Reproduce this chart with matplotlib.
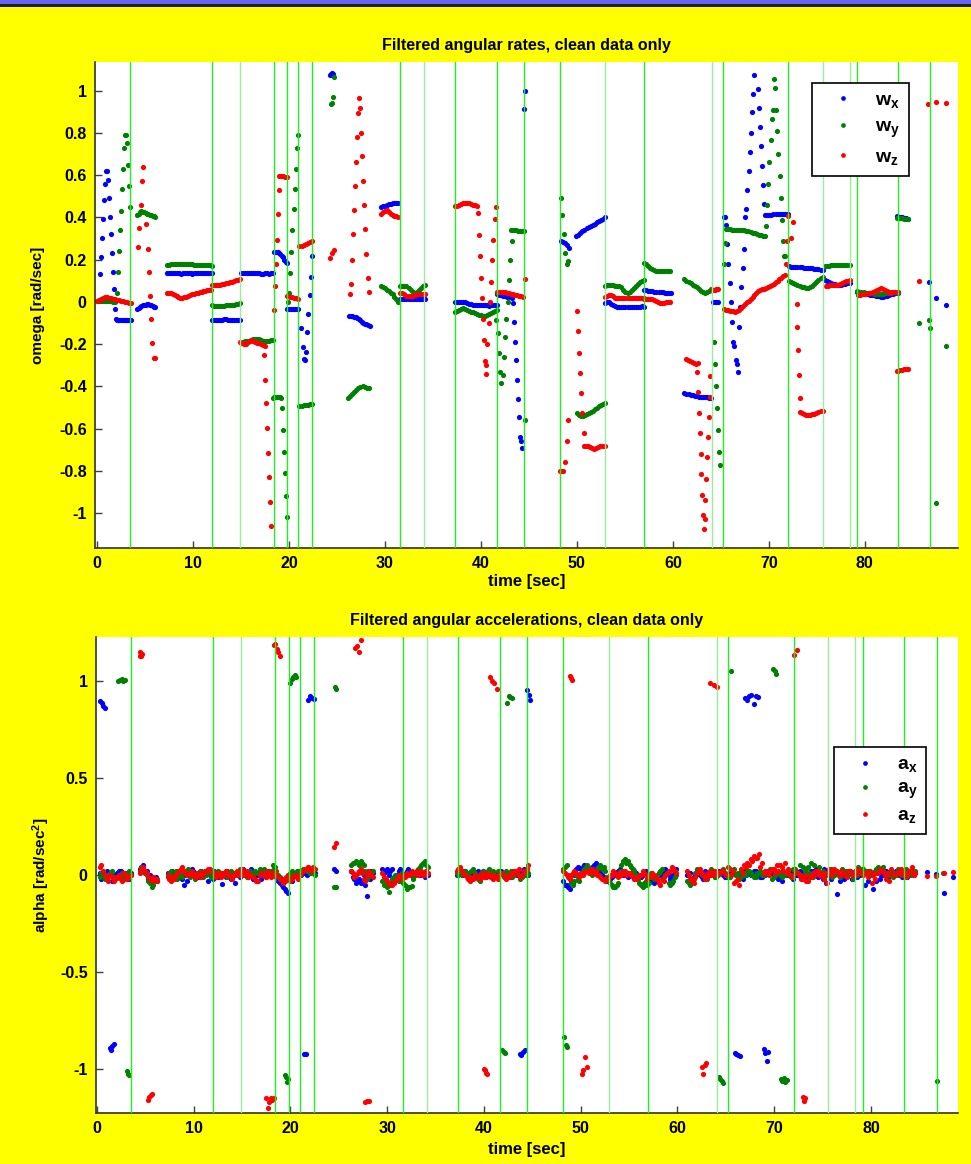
import numpy as np
import matplotlib
matplotlib.use("Agg")
import matplotlib.pyplot as plt
from matplotlib.lines import Line2D
from matplotlib.patches import Rectangle

plt.rcParams['font.family'] = ['Liberation Sans', 'DejaVu Sans']
plt.rcParams['font.weight'] = 'bold'
plt.rcParams['mathtext.fontset'] = 'custom'
plt.rcParams['mathtext.rm'] = 'Liberation Sans:bold'
plt.rcParams['mathtext.it'] = 'Liberation Sans:bold'
plt.rcParams['mathtext.bf'] = 'Liberation Sans:bold'

# event markers (green vertical lines), seconds
event_times = [3.47, 12.0, 14.9, 18.4, 19.8, 21.0, 22.4, 31.6, 34.1, 37.3, 41.7,
               44.5, 48.2, 52.9, 57.0, 64.1, 65.2, 72.0, 75.6, 78.4, 79.2, 83.4, 86.8]
pale_events = [14.9, 34.1, 52.9, 64.1, 75.6, 78.4]

# segments: (t_start, t_end, samples)
wx_segs = [
    (0.3, 1.9, [0.13, 0.21, 0.30, 0.39, 0.48, 0.56, 0.62, 0.62, 0.575, 0.49, 0.40, 0.32, 0.23, 0.14, 0.06, -0.035]),
    (2.0, 3.6, [-0.083, -0.085, -0.086, -0.085, -0.085, -0.084, -0.085, -0.086, -0.086, -0.085, -0.085, -0.086, -0.087, -0.086, -0.085]),
    (4.2, 6.1, [-0.035, -0.03, -0.025, -0.02, -0.017, -0.015, -0.013, -0.012, -0.012, -0.013, -0.015, -0.018, -0.022, -0.025]),
    (7.3, 12.0, [0.136, 0.137, 0.136, 0.135, 0.136, 0.136, 0.135, 0.134, 0.135, 0.136, 0.136, 0.135,
                 0.135, 0.134, 0.135, 0.136, 0.136, 0.135, 0.135, 0.136, 0.136, 0.135, 0.135, 0.136]),
    (12.0, 14.9, [-0.085, -0.086, -0.085, -0.085, -0.084, -0.084, -0.083, -0.083, -0.084, -0.084, -0.085, -0.085, -0.085, -0.086, -0.086]),
    (15.0, 18.3, [0.135, 0.136, 0.136, 0.137, 0.138, 0.138, 0.137, 0.136, 0.135, 0.135, 0.134, 0.134, 0.135, 0.135, 0.134, 0.135, 0.136]),
    (18.4, 19.8, [0.236, 0.237, 0.236, 0.234, 0.231, 0.226, 0.219, 0.21, 0.2, 0.19, 0.185]),
    (19.85, 21.0, [-0.034, -0.035, -0.035, -0.036, -0.035, -0.035, -0.035]),
    (21.3, 22.4, [-0.125, -0.215, -0.27, -0.275, -0.238, -0.144, -0.057, 0.033, 0.12, 0.215]),
    (24.25, 24.6, [1.075, 1.08, 1.083, 1.08]),
    (26.3, 28.4, [-0.066, -0.067, -0.068, -0.07, -0.074, -0.078, -0.083, -0.088, -0.093, -0.098, -0.103, -0.107, -0.11, -0.112]),
    (29.6, 31.4, [0.448, 0.452, 0.456, 0.46, 0.462, 0.464, 0.466, 0.467, 0.468, 0.468]),
    (31.6, 34.2, [0.015, 0.014, 0.014, 0.013, 0.014, 0.015, 0.014, 0.014, 0.013, 0.014, 0.014, 0.015, 0.014]),
    (37.3, 41.7, [0.0, 0.001, 0.0, 0.0, 0.0, -0.002, -0.005, -0.009, -0.012, -0.014, -0.015, -0.016,
                  -0.016, -0.017, -0.017, -0.017, -0.017, -0.018, -0.017, -0.017, -0.017, -0.016]),
    (41.7, 43.2, [0.035, 0.033, 0.031, 0.029, 0.027, 0.025, 0.022, 0.02]),
    (43.35, 44.3, [-0.006, -0.093, -0.188, -0.275, -0.37, -0.458, -0.547, -0.638, -0.66, -0.694]),
    (44.5, 44.6, [0.913, 1.0]),
    (48.3, 49.2, [0.29, 0.285, 0.278, 0.268, 0.254]),
    (49.95, 52.9, [0.31, 0.318, 0.326, 0.334, 0.341, 0.348, 0.354, 0.36, 0.365, 0.37, 0.376, 0.382, 0.388, 0.394, 0.4]),
    (52.9, 57.0, [-0.006, -0.003, 0.0, -0.008, -0.015, -0.02, -0.022, -0.022, -0.022, -0.023,
                  -0.022, -0.022, -0.022, -0.022, -0.023, -0.022, -0.022, -0.022, -0.021, -0.022]),
    (57.0, 59.8, [0.057, 0.055, 0.053, 0.051, 0.05, 0.049, 0.049, 0.048, 0.046, 0.045, 0.044, 0.043, 0.042, 0.041]),
    (61.2, 64.0, [-0.433, -0.435, -0.438, -0.44, -0.443, -0.445, -0.447, -0.449, -0.45, -0.451, -0.452, -0.452, -0.453, -0.453]),
    (64.2, 64.7, [0.0, 0.0, 0.001, 0.0]),
    (65.3, 68.5, [0.40, 0.40, 0.365, 0.275, 0.18, 0.088, 0.0, -0.093, -0.19, -0.21, -0.275, -0.295, -0.33,
                  -0.117, -0.022, 0.07, 0.158, 0.25, 0.4, 0.44, 0.528, 0.62, 0.708, 0.80, 0.897, 0.984, 1.076]),
    (68.85, 69.5, [1.008, 0.918, 0.826, 0.736, 0.641, 0.555, 0.464]),
    (69.6, 72.0, [0.41, 0.411, 0.412, 0.413, 0.414, 0.415, 0.416, 0.417, 0.417, 0.418, 0.418, 0.417]),
    (72.1, 75.6, [0.168, 0.167, 0.166, 0.165, 0.165, 0.164, 0.163, 0.162, 0.161, 0.16, 0.159, 0.158, 0.157, 0.156, 0.155, 0.153, 0.152]),
    (75.8, 78.4, [0.104, 0.1, 0.095, 0.09, 0.086, 0.083, 0.081, 0.08, 0.081, 0.083, 0.085, 0.087, 0.088]),
    (79.2, 83.4, [0.046, 0.044, 0.042, 0.04, 0.038, 0.036, 0.034, 0.033, 0.031, 0.029,
                  0.027, 0.025, 0.025, 0.027, 0.03, 0.033, 0.036, 0.039, 0.042, 0.044]),
    (83.3, 84.5, [0.404, 0.403, 0.402, 0.4, 0.398, 0.395, 0.392]),
    (86.7, 86.7, [0.093]),
    (87.4, 87.4, [0.02]),
    (88.5, 88.5, [-0.017]),
]

wy_segs = [
    (0.1, 1.9, [0.003, 0.004, 0.005, 0.005, 0.004, 0.004, 0.003, 0.002, 0.001, 0.0]),
    (2.1, 3.5, [0.04, 0.14, 0.24, 0.34, 0.43, 0.535, 0.63, 0.73, 0.79, 0.79, 0.75, 0.65, 0.55, 0.447]),
    (4.2, 6.1, [0.41, 0.418, 0.425, 0.428, 0.427, 0.424, 0.42, 0.418, 0.415, 0.412, 0.41, 0.408, 0.405, 0.403]),
    (7.3, 12.0, [0.174, 0.176, 0.177, 0.177, 0.177, 0.177, 0.177, 0.177, 0.177, 0.177, 0.177, 0.177,
                 0.177, 0.177, 0.176, 0.176, 0.176, 0.176, 0.176, 0.175, 0.175, 0.174, 0.173, 0.172]),
    (12.0, 14.9, [-0.017, -0.018, -0.018, -0.018, -0.018, -0.018, -0.018, -0.017, -0.017, -0.016, -0.015, -0.013, -0.011, -0.009, -0.007]),
    (15.0, 18.3, [-0.195, -0.19, -0.187, -0.185, -0.183, -0.18, -0.177, -0.175, -0.176, -0.178, -0.181, -0.184, -0.185, -0.184, -0.183, -0.182, -0.181]),
    (18.3, 19.2, [-0.455, -0.452, -0.45, -0.45, -0.451, -0.452, -0.453]),
    (19.25, 19.76, [-0.504, -0.607, -0.71, -0.81, -0.92, -1.02]),
    (19.9, 20.95, [0.0, 0.04, 0.136, 0.237, 0.34, 0.44, 0.535, 0.63, 0.73, 0.79]),
    (21.1, 22.4, [-0.495, -0.493, -0.49, -0.488, -0.486, -0.484, -0.482]),
    (24.35, 24.7, [0.935, 0.94, 0.97, 1.063]),
    (26.2, 28.3, [-0.453, -0.445, -0.435, -0.425, -0.415, -0.407, -0.402, -0.4, -0.403, -0.407, -0.41]),
    (29.6, 31.4, [0.075, 0.07, 0.064, 0.057, 0.05, 0.043, 0.035, 0.025, 0.013, 0.0]),
    (31.6, 34.2, [0.076, 0.075, 0.074, 0.073, 0.066, 0.055, 0.045, 0.04, 0.045, 0.055, 0.065, 0.073, 0.08]),
    (37.3, 41.7, [-0.05, -0.045, -0.038, -0.032, -0.03, -0.033, -0.04, -0.045, -0.046, -0.048, -0.052,
                  -0.056, -0.06, -0.063, -0.066, -0.066, -0.063, -0.058, -0.052, -0.047, -0.043, -0.04]),
    (41.6, 43.2, [-0.085, -0.148, -0.243, -0.33, -0.385, -0.345, -0.26, -0.167, -0.08, 0.0, 0.104, 0.196, 0.286]),
    (43.1, 44.5, [0.34, 0.341, 0.34, 0.338, 0.337, 0.336, 0.334, 0.333]),
    (44.6, 44.6, [-0.56]),
    (48.35, 49.1, [0.49, 0.41, 0.32, 0.23, 0.18, 0.194]),
    (50.0, 52.9, [-0.525, -0.535, -0.54, -0.538, -0.535, -0.53, -0.525, -0.52, -0.515, -0.508, -0.5, -0.493, -0.487, -0.482, -0.478]),
    (52.9, 57.0, [0.077, 0.078, 0.078, 0.078, 0.078, 0.077, 0.077, 0.075, 0.068, 0.058,
                  0.048, 0.04, 0.045, 0.055, 0.065, 0.075, 0.085, 0.093, 0.1, 0.104]),
    (57.0, 59.7, [0.183, 0.178, 0.17, 0.162, 0.155, 0.15, 0.147, 0.145, 0.145, 0.145, 0.146, 0.147, 0.148, 0.148]),
    (61.2, 64.0, [0.107, 0.1, 0.093, 0.087, 0.08, 0.074, 0.068, 0.06, 0.053, 0.047, 0.044, 0.046, 0.052, 0.06]),
    (64.3, 64.9, [-0.19, -0.294, -0.4, -0.5, -0.607, -0.71, -0.772]),
    (65.3, 65.4, [0.18, 0.28]),
    (65.5, 69.6, [0.345, 0.344, 0.343, 0.342, 0.342, 0.341, 0.34, 0.34, 0.339, 0.338,
                  0.336, 0.333, 0.33, 0.327, 0.324, 0.321, 0.318, 0.316, 0.314, 0.313]),
    (69.7, 71.7, [0.357, 0.457, 0.56, 0.66, 0.765, 0.867, 0.908, 1.057, 1.01, 0.907, 0.807,
                  0.7, 0.597, 0.49, 0.389, 0.286, 0.218, 0.218]),
    (72.1, 75.6, [0.1, 0.096, 0.09, 0.085, 0.08, 0.076, 0.072, 0.068, 0.066, 0.065, 0.068, 0.075, 0.085, 0.095, 0.105, 0.112, 0.117]),
    (75.8, 78.4, [0.17, 0.171, 0.172, 0.173, 0.174, 0.174, 0.174, 0.174, 0.175, 0.175, 0.175, 0.174, 0.174]),
    (79.2, 83.4, [0.05, 0.048, 0.046, 0.045, 0.044, 0.043, 0.042, 0.04, 0.038, 0.037,
                  0.036, 0.036, 0.038, 0.04, 0.042, 0.044, 0.045, 0.046, 0.047, 0.048]),
    (83.3, 84.5, [0.398, 0.398, 0.397, 0.396, 0.394, 0.392, 0.39]),
    (85.6, 85.6, [-0.1]),
    (86.65, 86.75, [-0.085, -0.125]),
    (87.4, 87.4, [-0.95]),
    (88.5, 88.5, [-0.209]),
]

wz_segs = [
    (0.0, 3.6, [0.005, 0.01, 0.015, 0.02, 0.022, 0.022, 0.02, 0.018, 0.015, 0.012, 0.01, 0.007, 0.005, 0.002, 0.0, -0.003, -0.005, -0.007]),
    (4.3, 4.8, [0.26, 0.35, 0.46, 0.57, 0.64]),
    (5.15, 6.05, [0.37, 0.25, 0.14, 0.03, -0.082, -0.196, -0.264, -0.264]),
    (7.3, 11.9, [0.04, 0.042, 0.041, 0.037, 0.032, 0.026, 0.021, 0.018, 0.018, 0.021, 0.025, 0.029,
                 0.033, 0.036, 0.039, 0.042, 0.044, 0.046, 0.048, 0.05, 0.052, 0.054, 0.056, 0.058]),
    (12.0, 14.9, [0.08, 0.08, 0.081, 0.081, 0.082, 0.083, 0.085, 0.087, 0.089, 0.092, 0.095, 0.098, 0.102, 0.105, 0.108]),
    (14.9, 17.5, [-0.188, -0.196, -0.2, -0.198, -0.19, -0.183, -0.18, -0.183, -0.188, -0.193, -0.197, -0.2, -0.203, -0.207]),
    (17.4, 18.1, [-0.253, -0.368, -0.48, -0.595, -0.714, -0.83, -0.946, -1.063]),
    (18.47, 18.96, [-0.038, 0.076, 0.18, 0.294, 0.417, 0.528]),
    (19.0, 19.8, [0.594, 0.595, 0.594, 0.592, 0.59]),
    (19.85, 20.95, [0.028, 0.025, 0.022, 0.02, 0.017, 0.014]),
    (21.1, 22.4, [0.265, 0.266, 0.268, 0.272, 0.278, 0.284, 0.29]),
    (24.3, 24.7, [0.207, 0.23, 0.246]),
    (26.35, 28.3, [0.038, 0.084, 0.2, 0.32, 0.433, 0.547, 0.66, 0.778, 0.894, 0.965, 0.918, 0.80,
                   0.69, 0.573, 0.457, 0.344, 0.227, 0.112, 0.046]),
    (29.6, 31.4, [0.417, 0.425, 0.432, 0.433, 0.427, 0.418, 0.412, 0.408, 0.404, 0.4]),
    (31.6, 34.2, [0.044, 0.04, 0.035, 0.03, 0.028, 0.028, 0.03, 0.033, 0.035, 0.037, 0.038, 0.038, 0.038]),
    (37.3, 39.6, [0.452, 0.456, 0.46, 0.465, 0.468, 0.47, 0.469, 0.466, 0.463, 0.46, 0.457, 0.452]),
    (39.7, 40.5, [0.42, 0.318, 0.215, 0.115, 0.017, -0.082, -0.18, -0.28, -0.34]),
    (40.55, 41.55, [-0.3, -0.2, -0.098, 0.0, 0.096, 0.196, 0.294, 0.39, 0.447]),
    (41.7, 44.4, [0.045, 0.048, 0.049, 0.048, 0.046, 0.043, 0.04, 0.038, 0.036, 0.034, 0.031, 0.029, 0.027, 0.025]),
    (44.6, 44.6, [0.107]),
    (48.2, 49.1, [-0.8, -0.8, -0.8, -0.76, -0.66, -0.56]),
    (50.0, 50.7, [-0.043, -0.14, -0.243, -0.335, -0.43, -0.525, -0.62]),
    (50.7, 52.9, [-0.68, -0.68, -0.682, -0.688, -0.692, -0.695, -0.693, -0.688, -0.683, -0.68, -0.68]),
    (52.9, 57.0, [0.022, 0.028, 0.033, 0.033, 0.027, 0.02, 0.017, 0.017, 0.017, 0.017,
                  0.017, 0.018, 0.018, 0.018, 0.019, 0.019, 0.02, 0.02, 0.02, 0.02]),
    (57.0, 59.7, [0.013, 0.013, 0.013, 0.013, 0.012, 0.01, 0.006, 0.0, -0.005, -0.006, -0.004, -0.002, 0.0, 0.0]),
    (61.4, 62.6, [-0.272, -0.276, -0.28, -0.284, -0.288, -0.292, -0.29]),
    (62.55, 63.9, [-0.33, -0.425, -0.525, -0.622, -0.722, -0.817, -0.915, -1.01, -1.073, -1.03,
                   -0.94, -0.84, -0.736, -0.638, -0.547, -0.45, -0.35]),
    (64.2, 64.7, [0.057, 0.058, 0.06, 0.06]),
    (65.3, 71.7, [-0.035, -0.037, -0.039, -0.041, -0.043, -0.045, -0.046, -0.044, -0.038, -0.03, -0.02,
                  -0.01, -0.003, 0.006, 0.015, 0.025, 0.033, 0.041, 0.05, 0.057, 0.06, 0.063, 0.066,
                  0.069, 0.073, 0.078, 0.085, 0.093, 0.1, 0.108, 0.115, 0.122, 0.128]),
    (71.8, 71.8, [0.18]),
    (71.85, 71.95, [0.29, 0.404]),
    (72.3, 72.5, [0.3, 0.376]),
    (72.9, 73.2, [-0.01, -0.12, -0.23, -0.345, -0.457]),
    (73.2, 75.6, [-0.523, -0.527, -0.531, -0.535, -0.537, -0.536, -0.533, -0.529, -0.525, -0.521, -0.518, -0.515]),
    (75.9, 78.4, [0.076, 0.077, 0.078, 0.079, 0.08, 0.08, 0.082, 0.085, 0.089, 0.093, 0.097, 0.101, 0.104]),
    (79.3, 83.4, [0.033, 0.034, 0.035, 0.036, 0.038, 0.04, 0.043, 0.047, 0.052, 0.058,
                  0.063, 0.065, 0.06, 0.055, 0.05, 0.046, 0.044, 0.046, 0.048, 0.049]),
    (83.3, 84.5, [-0.327, -0.325, -0.323, -0.322, -0.32, -0.319, -0.319]),
    (85.6, 85.6, [0.101]),
    (86.6, 86.6, [0.937]),
    (87.4, 88.5, [0.945, 0.942]),
]

# angular accelerations: near-zero stretches plus the +-1 clusters
ax_segs = [
    (0.3, 3.5, [0.01, -0.01, 0.02, 0.0, -0.02, 0.01, 0.02, -0.01, 0.0, 0.01]),
    (0.45, 3.35, [-0.02, 0.0, 0.01, -0.03, 0.0, 0.02, -0.01, 0.01, -0.02]),
    (4.4, 6.2, [0.03, 0.05, 0.02, 0.0, -0.02, -0.03]),
    (4.55, 6.05, [0.04, 0.01, -0.02, -0.04, -0.01]),
    (7.3, 18.3, [0.01, -0.02, 0.0, 0.02, -0.01, -0.05, -0.03, 0.0, 0.02, 0.01, -0.01, 0.0, 0.02, 0.0, -0.02, 0.01, 0.0,
                 -0.045, -0.01, 0.01, 0.0, -0.04, 0.01, 0.02, 0.0, -0.01, 0.03, 0.01, 0.0, -0.02, 0.01, 0.02, 0.0, 0.01]),
    (7.45, 18.15, [0.0, 0.02, -0.01, 0.01, -0.02, 0.0, 0.01, 0.03, 0.0, -0.01, 0.02, 0.01, -0.03, 0.0, 0.02, -0.01, 0.01,
                   0.0, 0.02, -0.02, 0.0, 0.01, -0.01, 0.03, 0.0, 0.01, -0.02, 0.0, 0.02, 0.01, -0.01, 0.0, 0.02]),
    (18.4, 22.5, [0.01, -0.03, -0.05, -0.07, -0.09, -0.03, 0.0, 0.02, 0.0, 0.01, 0.03, 0.02, 0.01]),
    (18.55, 22.35, [-0.01, -0.04, -0.06, -0.08, -0.02, 0.01, 0.0, 0.02, 0.01, 0.0, 0.02, 0.03]),
    (24.45, 24.7, [0.03, 0.02]),
    (26.3, 28.5, [0.02, -0.02, -0.03, -0.04, 0.0, -0.11, -0.02, 0.01]),
    (26.45, 28.35, [-0.01, -0.04, -0.02, -0.03, -0.05, 0.0, 0.02]),
    (29.5, 34.2, [0.03, 0.02, 0.0, 0.03, -0.01, 0.02, 0.01, 0.0, 0.03, 0.01, 0.0, 0.02, 0.01, -0.01, 0.0]),
    (29.65, 34.05, [0.01, 0.03, 0.02, -0.01, 0.0, 0.03, 0.0, 0.02, 0.01, -0.01, 0.02, 0.0, 0.01, 0.02]),
    (37.2, 44.6, [0.0, 0.01, 0.02, 0.0, -0.01, 0.02, 0.01, 0.0, 0.02, -0.01, 0.0, 0.01, 0.0, 0.02, 0.01, -0.01,
                  0.0, 0.02, 0.01, 0.0, 0.01, 0.02, 0.0]),
    (37.35, 44.45, [0.01, 0.0, 0.02, 0.01, 0.0, -0.01, 0.02, 0.0, 0.01, 0.02, -0.01, 0.0, 0.01, 0.02, 0.0, 0.01,
                    -0.01, 0.02, 0.0, 0.01, 0.03, 0.01]),
    (48.2, 59.9, [-0.03, -0.05, -0.07, -0.04, 0.03, 0.035, 0.04, 0.03, 0.02, 0.04, 0.06, 0.02, 0.0, -0.02, -0.03, -0.01,
                  0.0, 0.02, 0.01, 0.0, -0.01, 0.01, 0.02, 0.0, -0.01, 0.01, 0.0, -0.02, -0.04, -0.03, 0.0, 0.02, 0.01,
                  -0.02, 0.0, 0.03]),
    (48.35, 59.75, [-0.05, -0.06, -0.03, 0.0, 0.04, 0.03, 0.05, 0.02, 0.03, 0.05, 0.03, 0.01, -0.01, -0.03, -0.02, 0.0,
                    0.01, 0.03, 0.0, 0.01, 0.0, 0.02, 0.01, -0.01, 0.0, 0.02, -0.01, -0.03, -0.02, 0.01, 0.0, 0.03,
                    0.0, -0.01, 0.02]),
    (61.0, 84.6, [0.0, 0.01, -0.01, 0.02, 0.0, -0.02, 0.01, 0.0, 0.02, 0.01,
                  0.02, 0.0, -0.01, 0.01, 0.02, 0.0, 0.01, -0.02, 0.0,
                  0.01, 0.0, 0.02, 0.01, -0.01, 0.0, 0.02, 0.01, 0.0,
                  -0.02, -0.03, 0.01, 0.0, 0.02, 0.01, 0.0, -0.01, 0.01,
                  0.0, 0.02, 0.01, -0.01, 0.0, 0.03, 0.02, -0.02, 0.0,
                  -0.1, -0.03, -0.02, 0.0, 0.02, 0.01, -0.01, 0.0, 0.02,
                  0.01, 0.0, -0.07, -0.03, -0.02, 0.0, 0.02, 0.01, 0.0,
                  0.02, 0.0, -0.01, 0.01, 0.0, 0.02, 0.01]),
    (61.15, 84.45, [0.01, -0.02, 0.0, 0.01, -0.01, 0.02, 0.0, 0.01, -0.01, 0.02,
                    0.01, -0.01, 0.0, 0.02, 0.01, -0.01, 0.0, 0.02, 0.01, 0.0,
                    0.02, 0.01, -0.01, 0.0, 0.01, 0.02, 0.0, -0.01, 0.01, 0.02,
                    0.0, 0.01, -0.02, 0.0, 0.02, 0.01, -0.01, 0.0, 0.02, 0.03,
                    0.01, -0.02, -0.04, 0.0, 0.01, 0.02, 0.0, -0.01, 0.01, 0.02,
                    -0.02, 0.0, 0.01, 0.02, -0.05, -0.03, 0.0, 0.01, 0.02, 0.0,
                    0.01, -0.01, 0.02, 0.0, 0.01, 0.02, 0.0, -0.01, 0.01, 0.0]),
    (85.8, 86.7, [0.017, 0.005]),
    (87.55, 88.5, [-0.09, -0.01]),
    (0.3, 0.85, [0.895, 0.885, 0.87, 0.86]),
    (1.3, 1.75, [-0.89, -0.9, -0.88, -0.868]),
    (21.4, 21.6, [-0.923, -0.92]),
    (21.85, 22.4, [0.9, 0.92, 0.91, 0.907]),
    (43.7, 44.2, [-0.92, -0.925, -0.91, -0.9]),
    (44.5, 44.8, [0.953, 0.928, 0.902]),
    (65.9, 66.5, [-0.915, -0.92, -0.925, -0.933]),
    (67.0, 68.3, [0.91, 0.9, 0.92, 0.928, 0.88, 0.92, 0.919]),
    (68.9, 69.4, [-0.893, -0.916, -0.957, -0.91]),
]

ay_segs = [
    (0.3, 3.5, [-0.01, 0.0, -0.02, 0.01, -0.01, -0.015, 0.0, -0.02, 0.01, 0.0]),
    (0.45, 3.35, [0.01, -0.02, 0.0, 0.02, -0.01, 0.0, 0.01, -0.01, 0.02]),
    (4.4, 6.2, [0.02, 0.03, 0.0, -0.04, -0.05, -0.02]),
    (4.55, 6.05, [0.04, 0.01, -0.03, -0.06, -0.03]),
    (7.3, 18.3, [-0.01, 0.02, 0.0, -0.02, 0.01, 0.02, 0.0, -0.01, 0.01, 0.0, 0.02, -0.01, 0.0, 0.01, 0.02, -0.01, 0.0,
                 0.01, 0.02, 0.0, -0.01, 0.01, 0.0, 0.02, 0.01, -0.01, 0.0, 0.02, 0.01, 0.0, 0.03, 0.01, 0.02, 0.04]),
    (7.45, 18.15, [0.01, -0.01, 0.02, 0.0, -0.01, 0.01, 0.03, 0.0, -0.02, 0.01, 0.0, 0.02, 0.01, -0.01, 0.0, 0.02, 0.01,
                   0.0, -0.01, 0.02, 0.01, 0.0, 0.03, 0.01, -0.01, 0.02, 0.0, 0.01, 0.03, 0.02, 0.0, 0.02, 0.05]),
    (18.4, 22.5, [0.04, 0.0, -0.02, -0.03, 0.0, 0.02, 0.01, -0.01, 0.02, 0.03, 0.04, 0.01, 0.0]),
    (18.55, 22.35, [0.02, -0.01, -0.04, -0.02, 0.01, 0.0, 0.02, 0.0, 0.03, 0.02, 0.01, 0.02]),
    (24.45, 24.7, [-0.06, -0.06]),
    (26.3, 28.5, [0.05, 0.06, 0.06, 0.07, 0.05, -0.02, 0.0, 0.02]),
    (26.45, 28.35, [0.06, 0.07, 0.05, 0.06, 0.02, -0.01, 0.01]),
    (29.5, 34.2, [-0.03, -0.04, -0.086, -0.02, 0.0, -0.03, 0.01, -0.05, -0.06, -0.055, 0.0, 0.03, 0.05, 0.07, 0.04]),
    (29.65, 34.05, [-0.05, -0.06, -0.04, -0.01, -0.02, 0.0, -0.04, -0.07, -0.06, -0.02, 0.02, 0.04, 0.06, 0.05]),
    (37.2, 44.6, [0.01, 0.02, 0.0, 0.01, -0.01, 0.03, 0.0, -0.03, 0.02, 0.01, 0.03, 0.02, -0.01, 0.0, 0.01, 0.02,
                  0.0, -0.01, 0.01, 0.0, -0.01, 0.0, 0.01]),
    (37.35, 44.45, [0.0, 0.01, 0.02, 0.0, 0.02, 0.01, -0.02, 0.01, 0.0, 0.02, 0.01, 0.0, 0.02, 0.01, -0.01, 0.01,
                    0.02, 0.0, 0.01, -0.02, 0.01, 0.0]),
    (48.2, 59.9, [0.03, 0.05, -0.02, -0.05, 0.0, -0.03, 0.02, 0.04, 0.03, 0.0, 0.02, 0.04, 0.03, 0.02, -0.03, -0.05,
                  -0.06, -0.04, 0.05, 0.08, 0.07, 0.04, 0.02, -0.02, -0.05, -0.04, -0.05, 0.01, -0.02, 0.0, 0.02,
                  -0.01, 0.01, -0.05, -0.03, 0.0]),
    (48.35, 59.75, [0.04, 0.0, -0.04, -0.03, -0.02, 0.01, 0.03, 0.05, 0.02, 0.01, 0.03, 0.05, 0.04, -0.01, -0.04,
                    -0.06, -0.05, 0.02, 0.07, 0.06, 0.05, 0.03, 0.0, -0.04, -0.06, -0.03, -0.04, 0.0, -0.01, 0.01,
                    0.03, 0.0, -0.04, -0.04, -0.01]),
    (61.0, 84.6, [-0.03, -0.05, -0.02, 0.03, 0.01, 0.0, -0.02, 0.02, 0.0, -0.01,
                  0.01, 0.03, 0.0, -0.01, 0.02, 0.0, -0.02, 0.01, 0.0,
                  0.02, 0.0, -0.01, 0.01, 0.0, 0.02, 0.01, -0.02, 0.0,
                  0.01, -0.01, 0.0, 0.02, -0.01, 0.03, 0.01, 0.0, 0.02,
                  0.04, 0.06, 0.05, 0.02, 0.0, -0.02, 0.01, 0.03, 0.0,
                  0.01, -0.01, 0.0, 0.02, 0.01, -0.02, 0.0, 0.01, 0.03,
                  0.02, 0.0, 0.01, 0.03, 0.02, 0.04, 0.01, 0.0, -0.01,
                  0.0, 0.02, 0.01, 0.03, 0.0, 0.01, 0.02]),
    (61.15, 84.45, [-0.04, -0.03, 0.01, 0.02, 0.0, -0.01, 0.01, 0.03, -0.01, 0.0,
                    0.02, 0.01, -0.01, 0.0, 0.03, 0.01, -0.01, 0.0, 0.02, 0.01,
                    -0.01, 0.01, 0.02, 0.0, 0.01, 0.03, -0.01, 0.01, 0.0, 0.02,
                    0.01, 0.0, 0.03, 0.02, 0.05, 0.04, 0.03, 0.01, -0.01, 0.02,
                    0.04, 0.02, 0.0, 0.01, -0.01, 0.02, 0.0, 0.03, 0.02, 0.01,
                    0.0, 0.02, 0.04, 0.03, 0.01, 0.02, 0.0, 0.02, 0.04, 0.03,
                    0.01, 0.0, 0.02, 0.01, 0.03, 0.0, 0.01, 0.02, 0.0, 0.01]),
    (87.5, 87.5, [0.01]),
    (2.2, 2.9, [1.0, 1.005, 1.01, 1.0, 1.005]),
    (3.15, 3.35, [-1.01, -1.022, -1.03]),
    (19.4, 19.7, [-1.03, -1.04, -1.065, -1.05]),
    (20.0, 20.6, [0.988, 1.01, 1.02, 1.03, 1.02]),
    (24.6, 24.7, [0.97, 0.96]),
    (41.9, 42.2, [-0.9, -0.91, -0.916]),
    (42.4, 42.9, [0.885, 0.92, 0.916, 0.91]),
    (48.3, 48.6, [-0.833, -0.875, -0.885]),
    (64.3, 64.7, [-1.04, -1.048, -1.06, -1.07]),
    (65.5, 65.5, [1.048]),
    (69.9, 70.2, [1.06, 1.05, 1.036]),
    (70.7, 71.3, [-1.05, -1.06, -1.045, -1.065, -1.057]),
    (86.8, 86.8, [-1.06]),
]

az_segs = [
    (0.3, 3.5, [0.04, 0.02, -0.02, 0.0, -0.03, -0.01, -0.02, 0.01, -0.02, 0.0]),
    (0.45, 3.35, [0.05, 0.0, -0.03, -0.01, -0.02, 0.0, -0.03, 0.0, -0.01]),
    (4.4, 6.2, [0.01, 0.04, 0.01, -0.02, -0.01, -0.03]),
    (4.55, 6.05, [0.03, 0.02, -0.01, -0.03, -0.02]),
    (7.3, 18.3, [0.0, -0.03, -0.02, 0.01, 0.03, 0.02, 0.0, 0.01, 0.0, 0.01, -0.01, 0.0, 0.02, 0.03, 0.01, -0.01, 0.0,
                 0.01, 0.02, 0.0, -0.02, 0.01, 0.0, 0.03, 0.01, -0.01, 0.0, -0.02, -0.03, 0.01, 0.0, 0.02, -0.01, 0.0]),
    (7.45, 18.15, [-0.02, -0.01, 0.0, 0.02, 0.04, 0.01, 0.0, 0.02, -0.01, 0.0, 0.01, 0.02, 0.03, 0.02, 0.0, 0.01, -0.01,
                   0.0, 0.01, -0.01, 0.0, 0.02, 0.01, 0.0, 0.02, 0.0, -0.01, -0.03, 0.0, 0.01, -0.01, 0.0, 0.01]),
    (18.4, 22.5, [0.02, -0.01, -0.02, -0.03, 0.0, -0.02, 0.0, -0.02, 0.01, 0.03, 0.04, 0.02, 0.03]),
    (18.55, 22.35, [0.0, -0.02, -0.04, -0.01, -0.03, -0.01, -0.01, 0.0, 0.02, 0.03, 0.03, 0.04]),
    (24.45, 24.7, [0.143, 0.167]),
    (26.3, 28.5, [0.02, -0.01, 0.01, 0.03, -0.02, 0.0, 0.01, -0.01]),
    (26.45, 28.35, [0.01, 0.0, 0.02, 0.01, -0.03, 0.02, 0.0]),
    (29.5, 34.2, [0.01, -0.02, -0.04, -0.05, -0.03, 0.0, -0.02, -0.01, 0.0, 0.02, 0.01, 0.0, 0.02, 0.0, 0.01]),
    (29.65, 34.05, [-0.01, -0.03, -0.05, -0.04, -0.02, -0.01, 0.0, 0.01, 0.0, 0.01, 0.02, 0.01, 0.0, 0.02]),
    (37.2, 44.6, [0.02, 0.04, 0.01, -0.01, -0.03, -0.02, 0.0, -0.02, 0.01, -0.01, 0.0, -0.02, -0.01, 0.0, 0.01,
                  -0.02, -0.01, 0.0, 0.02, 0.03, 0.0, 0.01, 0.05]),
    (37.35, 44.45, [0.03, 0.02, 0.0, -0.02, -0.01, 0.0, -0.01, 0.0, -0.01, 0.01, -0.01, 0.0, -0.02, 0.01, 0.0,
                    -0.01, 0.01, 0.02, 0.01, -0.01, 0.02, 0.03]),
    (48.2, 59.9, [0.02, 0.0, -0.02, 0.01, 0.01, -0.01, 0.0, 0.02, 0.01, 0.03, 0.02, 0.0, -0.02, -0.03, -0.01, 0.0,
                  0.01, -0.01, 0.0, 0.02, 0.01, 0.0, -0.02, -0.01, 0.0, 0.01, -0.02, -0.01, 0.0, -0.02, -0.05,
                  -0.03, 0.01, 0.02, 0.03, 0.01]),
    (48.35, 59.75, [0.01, -0.01, 0.0, 0.02, 0.0, 0.01, 0.01, 0.02, 0.03, 0.01, 0.0, -0.01, -0.02, -0.02, 0.0, 0.02,
                    0.0, 0.01, 0.02, 0.0, 0.01, -0.01, -0.02, 0.0, 0.02, 0.0, -0.01, 0.01, -0.01, -0.04, -0.02, 0.0,
                    0.02, 0.04, 0.02]),
    (61.0, 84.6, [0.02, -0.02, -0.04, 0.01, 0.03, 0.0, -0.01, 0.02, 0.01, 0.0,
                  0.01, 0.02, 0.0, 0.03, 0.02, -0.03, -0.05, 0.01, 0.04,
                  0.05, 0.07, 0.09, 0.11, 0.06, 0.02, 0.0, 0.03, 0.01,
                  0.02, 0.04, 0.06, 0.03, 0.0, 0.02, 0.01, -0.02, 0.0,
                  -0.03, -0.01, 0.0, 0.02, 0.01, -0.02, -0.04, 0.0, 0.03,
                  0.02, 0.0, 0.01, -0.01, 0.02, 0.0, 0.03, 0.01, 0.0,
                  0.01, 0.02, 0.0, 0.01, 0.03, 0.02, -0.02, -0.03, 0.0,
                  0.01, 0.02, 0.0, -0.01, 0.02, 0.04, 0.01]),
    (61.15, 84.45, [0.0, -0.03, -0.01, 0.02, 0.01, -0.02, 0.01, 0.0, 0.02, 0.01,
                    0.02, 0.01, 0.04, 0.0, -0.04, -0.02, 0.03, 0.05, 0.06, 0.08,
                    0.1, 0.09, 0.04, 0.01, 0.02, 0.02, 0.03, 0.05, 0.05, 0.02,
                    0.01, 0.0, -0.01, 0.01, 0.0, -0.02, -0.03, -0.01, 0.01, 0.02,
                    0.0, -0.01, 0.01, 0.03, 0.01, 0.02, 0.0, 0.02, 0.0, 0.02,
                    0.01, 0.0, 0.02, 0.02, 0.01, -0.01, -0.04, -0.02, 0.01, 0.02,
                    0.0, 0.01, 0.03, 0.0, 0.01, 0.03, 0.02, 0.0, 0.02, 0.0]),
    (85.8, 88.5, [-0.005, -0.005, 0.009, 0.017]),
    (4.4, 4.65, [1.15, 1.13, 1.125, 1.14]),
    (5.25, 5.7, [-1.16, -1.143, -1.13, -1.125]),
    (17.5, 18.3, [-1.146, -1.2, -1.168, -1.15, -1.16, -1.15]),
    (18.3, 18.9, [1.185, 1.19, 1.163, 1.146, 1.125]),
    (26.7, 27.3, [1.168, 1.177, 1.15, 1.21]),
    (27.7, 28.1, [-1.168, -1.165, -1.163]),
    (40.0, 40.35, [-1.0, -1.005, -1.02, -1.022]),
    (40.6, 41.3, [1.02, 1.0, 0.988, 0.957]),
    (48.9, 49.1, [1.026, 1.015, 1.005]),
    (50.1, 50.6, [-1.026, -1.005, -0.936, -0.988]),
    (62.5, 63.0, [-0.988, -1.026, -0.98, -0.97]),
    (63.4, 64.1, [0.991, 0.98, 0.967]),
    (72.0, 72.4, [1.134, 1.16]),
    (73.0, 73.2, [-1.14, -1.163, -1.15]),
]


def expand(segs):
    t, v = [], []
    for t0, t1, vals in segs:
        t.extend(np.linspace(t0, t1, len(vals)))
        v.extend(vals)
    return np.array(t), np.array(v)


def fmt(x, pos):
    return '%g' % round(x, 2)


def style_axes(ax, xlim, ylim, yticks):
    ax.set_facecolor('white')
    ax.set_xlim(*xlim)
    ax.set_ylim(*ylim)
    ax.set_xticks(range(0, 90, 10))
    ax.set_yticks(yticks)
    ax.yaxis.set_major_formatter(plt.FuncFormatter(fmt))
    ax.tick_params(direction='in', length=5, width=1, color='#404040', labelsize=11.5, pad=6)
    for lab in ax.get_xticklabels() + ax.get_yticklabels():
        lab.set_fontweight('bold')
    for s in ['top', 'right']:
        ax.spines[s].set_visible(False)
    for s in ['left', 'bottom']:
        ax.spines[s].set_color('#303030')
        ax.spines[s].set_linewidth(1.2)
    for et in event_times:
        col = '#99ee99' if et in pale_events else '#22ee22'
        ax.axvline(et, color=col, lw=1.0, zorder=3)


def add_legend(ax, labels, anchor, spacing):
    handles = [Line2D([], [], ls='none', marker='o', ms=3.4, mec='none', mfc=c) for c in colors]
    leg = ax.legend(handles, labels, loc='upper right', bbox_to_anchor=anchor,
                    prop={'size': 14, 'weight': 'bold'}, handlelength=2.3, handletextpad=0.5,
                    labelspacing=spacing, borderpad=0.45, borderaxespad=0, fancybox=False,
                    framealpha=1, edgecolor='black')
    leg.get_frame().set_linewidth(1.2)
    leg.set_zorder(5)


fig = plt.figure(figsize=(9.71, 11.64), dpi=100, facecolor='#ffff00')
fig.patches.append(Rectangle((0, 1 - 4 / 1164), 1, 4 / 1164, transform=fig.transFigure,
                             facecolor='#6666ee', edgecolor='none'))
fig.patches.append(Rectangle((0, 1 - 6.5 / 1164), 1, 2.5 / 1164, transform=fig.transFigure,
                             facecolor='#202020', edgecolor='none'))

colors = ['#0000ff', '#008000', '#ff0000']
msize = 14

# top: angular rates
ax1 = fig.add_axes([0.0978, 0.5292, 0.8888, 0.4175])
for segs, c in zip([wx_segs, wy_segs, wz_segs], colors):
    t, v = expand(segs)
    ax1.scatter(t, v, s=msize, c=c, linewidths=0, zorder=2)
style_axes(ax1, (-0.2, 89.7), (-1.165, 1.135), [-1, -0.8, -0.6, -0.4, -0.2, 0, 0.2, 0.4, 0.6, 0.8, 1])
ax1.set_title('Filtered angular rates, clean data only', fontsize=11.5, fontweight='bold', pad=9)
ax1.set_xlabel('time [sec]', fontsize=12, fontweight='bold', labelpad=2)
ax1.set_ylabel('omega [rad/sec]', fontsize=11, fontweight='bold', labelpad=10)
add_legend(ax1, ['w$_{x}$', 'w$_{y}$', 'w$_{z}$'], (0.943, 0.957), 0.42)

# bottom: angular accelerations
ax2 = fig.add_axes([0.0989, 0.0438, 0.8877, 0.4089])
for segs, c in zip([ax_segs, ay_segs, az_segs], colors):
    t, v = expand(segs)
    ax2.scatter(t, v, s=msize, c=c, linewidths=0, zorder=2)
style_axes(ax2, (-0.1, 89.0), (-1.225, 1.225), [-1, -0.5, 0, 0.5, 1])
ax2.set_title('Filtered angular accelerations, clean data only', fontsize=11.5, fontweight='bold', pad=9)
ax2.set_xlabel('time [sec]', fontsize=12, fontweight='bold', labelpad=4)
ax2.set_ylabel('alpha [rad/sec$^{2}$]', fontsize=11, fontweight='bold', labelpad=6)
add_legend(ax2, ['a$_{x}$', 'a$_{y}$', 'a$_{z}$'], (0.963, 0.769), 0.28)

fig.savefig('out.png', dpi=100, facecolor=fig.get_facecolor())
